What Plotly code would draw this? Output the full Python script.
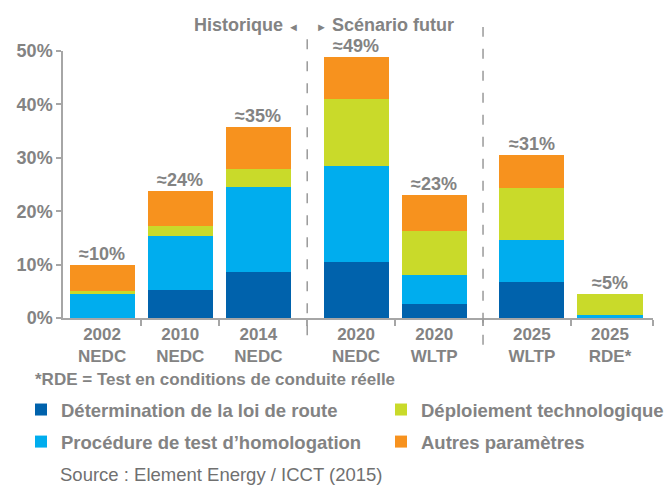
import plotly.graph_objects as go

# ---- data ----
categories = ["2002<br>NEDC", "2010<br>NEDC", "2014<br>NEDC", "2020<br>NEDC",
              "2020<br>WLTP", "2025<br>WLTP", "2025<br>RDE*"]
route = [0.0, 5.3, 8.65, 10.5, 2.7, 6.8, 0.0]
homologation = [4.5, 10.1, 15.85, 18.0, 5.4, 7.8, 0.5]
deploiement = [0.6, 1.85, 3.4, 12.5, 8.2, 9.8, 4.05]
autres = [4.9, 6.55, 7.8, 7.8, 6.7, 6.1, 0.0]
total_labels = ["≈10%", "≈24%", "≈35%", "≈49%", "≈23%", "≈31%", "≈5%"]
series_names = ["Détermination de la loi de route", "Procédure de test d’homologation",
                "Déploiement technologique", "Autres paramètres"]
y_ticks = [0, 10, 20, 30, 40, 50]
y_tick_labels = ["0%", "10%", "20%", "30%", "40%", "50%"]

# ---- layout helpers (positions, not data) ----
xpos = [0, 1, 2, 3.25, 4.25, 5.5, 6.5]
boundaries = [0.5, 1.5, 2.625, 3.75, 4.875, 6.0, 7.05]
sep1, sep2 = 2.625, 4.875

GRAY = "#838383"
AXIS = "#a6a6a6"
FONT = "Liberation Sans, Arial, sans-serif"
colors = ["#0062AC", "#00ADEE", "#C9DA2A", "#F7921E"]

fig = go.Figure()
series = [route, homologation, deploiement, autres]
legend_ids = ["legend", "legend", "legend2", "legend2"]
for i, (name, vals) in enumerate(zip(series_names, series)):
    fig.add_trace(go.Bar(
        x=xpos, y=vals, name=name, width=0.833,
        marker=dict(color=colors[i], line=dict(width=0)),
        legend=legend_ids[i], legendgroup=name,
        hoverinfo="skip",
    ))

totals = [a + b + c + d for a, b, c, d in zip(*series)]
for xp, tot, lab in zip(xpos, totals, total_labels):
    fig.add_annotation(x=xp, y=tot, text=lab, showarrow=False, xref="x", yref="y",
                       yanchor="bottom", yshift=-1,
                       font=dict(family=FONT, size=18, color=GRAY, weight="bold"))

for s, ytop, ybot in [(sep1, 1.086, -0.065), (sep2, 1.09, -0.10)]:
    fig.add_shape(type="line", xref="x", yref="paper", x0=s, x1=s, y0=ybot, y1=ytop,
                  line=dict(color="#9a9a9a", width=1.5, dash="10px,12px"))

fig.add_annotation(x=sep1, y=1.097, xref="x", yref="paper", xanchor="right", yanchor="middle",
                   xshift=-6, showarrow=False,
                   text="Historique <span style='font-size:11px'>◄</span>",
                   font=dict(family=FONT, size=18, color=GRAY, weight="bold"))
fig.add_annotation(x=sep1, y=1.097, xref="x", yref="paper", xanchor="left", yanchor="middle",
                   xshift=7, showarrow=False,
                   text="<span style='font-size:11px'>►</span> Scénario futur",
                   font=dict(family=FONT, size=18, color=GRAY, weight="bold"))

fig.add_annotation(x=-0.0508, y=-0.231, xref="paper", yref="paper", xanchor="left",
                   yanchor="middle", showarrow=False,
                   text="*RDE = Test en conditions de conduite réelle",
                   font=dict(family=FONT, size=17, color=GRAY, weight="bold"))
fig.add_annotation(x=-0.008, y=-0.588, xref="paper", yref="paper", xanchor="left",
                   yanchor="middle", showarrow=False,
                   text="Source : Element Energy / ICCT (2015)",
                   font=dict(family=FONT, size=18.5, color="#707070"))

legend_common = dict(
    orientation="v", xref="container", yref="container", xanchor="left", yanchor="top",
    font=dict(family=FONT, size=18.5, color=GRAY, weight="bold"),
    bgcolor="rgba(0,0,0,0)", traceorder="grouped", tracegroupgap=5,
)
fig.update_layout(
    width=667, height=487,
    margin=dict(l=63, r=14, t=51, b=169, autoexpand=False),
    plot_bgcolor="white", paper_bgcolor="white",
    barmode="stack", bargap=0,
    showlegend=True,
    legend=dict(x=21 / 667, y=1 - 391 / 487, **legend_common),
    legend2=dict(x=381 / 667, y=1 - 391 / 487, **legend_common),
    font=dict(family=FONT, color=GRAY),
    xaxis=dict(
        range=[-0.5, 7.05], showgrid=False, zeroline=False,
        showline=True, linecolor=AXIS, linewidth=1.5,
        tickmode="array", tickvals=xpos, ticktext=categories, ticks="",
        tickfont=dict(family=FONT, size=17, color=GRAY, weight="bold"),
        minor=dict(tickmode="array", tickvals=boundaries, ticks="outside", ticklen=6,
                   tickcolor=AXIS, tickwidth=1.5, showgrid=False),
    ),
    yaxis=dict(
        range=[0, 50], showgrid=False, zeroline=False,
        showline=True, linecolor=AXIS, linewidth=1.5,
        tickmode="array", tickvals=y_ticks, ticktext=y_tick_labels,
        ticks="outside", ticklen=5, tickcolor=AXIS, tickwidth=1.5,
        tickfont=dict(family=FONT, size=18, color=GRAY, weight="bold"),
    ),
)

fig.write_html("out.html", config={"displayModeBar": False},
               post_script="document.body.style.margin='0px';")
